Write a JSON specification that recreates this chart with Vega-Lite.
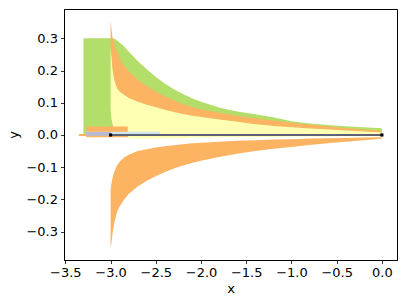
{
  "$schema": "https://vega.github.io/schema/vega-lite/v6.json",
  "autosize": "none",
  "width": 333,
  "height": 251,
  "padding": {"left": 64, "top": 9, "right": 10, "bottom": 45},
  "config": {
    "view": {"stroke": "black", "strokeWidth": 1},
    "font": "DejaVu Sans",
    "axis": {
      "grid": false, "domainColor": "black", "tickColor": "black", "tickSize": 3.5, "tickWidth": 0.8,
      "domainWidth": 1, "labelFontSize": 13, "labelColor": "black", "titleFontSize": 13,
      "titleFontWeight": "normal", "titleColor": "black", "labelPadding": 3, "labelFont": "DejaVu Sans", "titleFont": "DejaVu Sans"
    }
  },
  "datasets": {
    "green": [
      {"x": -3.3, "lo": 0, "hi": 0.3}, {"x": -3.0, "lo": 0, "hi": 0.3}, {"x": -2.95, "lo": 0, "hi": 0.298},
      {"x": -2.87, "lo": 0, "hi": 0.28}, {"x": -2.8, "lo": 0, "hi": 0.259}, {"x": -2.7, "lo": 0, "hi": 0.23},
      {"x": -2.6, "lo": 0, "hi": 0.204}, {"x": -2.5, "lo": 0, "hi": 0.18}, {"x": -2.4, "lo": 0, "hi": 0.16},
      {"x": -2.3, "lo": 0, "hi": 0.142}, {"x": -2.2, "lo": 0, "hi": 0.127}, {"x": -2.1, "lo": 0, "hi": 0.114},
      {"x": -2.0, "lo": 0, "hi": 0.103}, {"x": -1.8, "lo": 0, "hi": 0.085}, {"x": -1.6, "lo": 0, "hi": 0.073},
      {"x": -1.4, "lo": 0, "hi": 0.064}, {"x": -1.2, "lo": 0, "hi": 0.055}, {"x": -1.0, "lo": 0, "hi": 0.043},
      {"x": -0.8, "lo": 0, "hi": 0.036}, {"x": -0.6, "lo": 0, "hi": 0.031}, {"x": -0.4, "lo": 0, "hi": 0.027},
      {"x": -0.2, "lo": 0, "hi": 0.024}, {"x": 0.0, "lo": 0, "hi": 0.021}
    ],
    "orange": [
      {"x": -3.0, "lo": 0.27, "hi": 0.355}, {"x": -2.99, "lo": 0.24, "hi": 0.33}, {"x": -2.98, "lo": 0.205, "hi": 0.305},
      {"x": -2.96, "lo": 0.172, "hi": 0.285}, {"x": -2.93, "lo": 0.145, "hi": 0.26}, {"x": -2.87, "lo": 0.128, "hi": 0.222},
      {"x": -2.8, "lo": 0.115, "hi": 0.198}, {"x": -2.7, "lo": 0.103, "hi": 0.172}, {"x": -2.6, "lo": 0.094, "hi": 0.152},
      {"x": -2.5, "lo": 0.086, "hi": 0.135}, {"x": -2.4, "lo": 0.078, "hi": 0.12}, {"x": -2.3, "lo": 0.071, "hi": 0.107},
      {"x": -2.2, "lo": 0.065, "hi": 0.096}, {"x": -2.1, "lo": 0.06, "hi": 0.087}, {"x": -2.0, "lo": 0.056, "hi": 0.08},
      {"x": -1.8, "lo": 0.048, "hi": 0.069}, {"x": -1.6, "lo": 0.041, "hi": 0.06}, {"x": -1.4, "lo": 0.033, "hi": 0.052},
      {"x": -1.2, "lo": 0.028, "hi": 0.045}, {"x": -1.0, "lo": 0.024, "hi": 0.038}, {"x": -0.8, "lo": 0.02, "hi": 0.032},
      {"x": -0.6, "lo": 0.017, "hi": 0.027}, {"x": -0.4, "lo": 0.014, "hi": 0.022}, {"x": -0.2, "lo": 0.011, "hi": 0.017},
      {"x": 0.0, "lo": 0.008, "hi": 0.013}
    ],
    "yellow": [
      {"x": -3.0, "lo": 0.078, "hi": 0.27}, {"x": -2.99, "lo": 0.05, "hi": 0.24}, {"x": -2.98, "lo": 0.035, "hi": 0.205},
      {"x": -2.96, "lo": 0.022, "hi": 0.172}, {"x": -2.93, "lo": 0.012, "hi": 0.145}, {"x": -2.9, "lo": 0.004, "hi": 0.135},
      {"x": -2.87, "lo": -0.004, "hi": 0.128}, {"x": -2.8, "lo": -0.01, "hi": 0.115}, {"x": -2.7, "lo": -0.012, "hi": 0.103},
      {"x": -2.6, "lo": -0.012, "hi": 0.094}, {"x": -2.5, "lo": -0.011, "hi": 0.086}, {"x": -2.4, "lo": -0.01, "hi": 0.078},
      {"x": -2.3, "lo": -0.009, "hi": 0.071}, {"x": -2.2, "lo": -0.009, "hi": 0.065}, {"x": -2.1, "lo": -0.008, "hi": 0.06},
      {"x": -2.0, "lo": -0.008, "hi": 0.056}, {"x": -1.8, "lo": -0.007, "hi": 0.048}, {"x": -1.6, "lo": -0.007, "hi": 0.041},
      {"x": -1.4, "lo": -0.006, "hi": 0.033}, {"x": -1.2, "lo": -0.006, "hi": 0.028}, {"x": -1.0, "lo": -0.005, "hi": 0.024},
      {"x": -0.8, "lo": -0.005, "hi": 0.02}, {"x": -0.6, "lo": -0.005, "hi": 0.017}, {"x": -0.4, "lo": -0.004, "hi": 0.014},
      {"x": -0.2, "lo": -0.004, "hi": 0.011}, {"x": 0.0, "lo": -0.004, "hi": 0.008}
    ],
    "lower": [
      {"x": -3.0, "lo": -0.352, "hi": -0.17}, {"x": -2.99, "lo": -0.335, "hi": -0.15}, {"x": -2.98, "lo": -0.31, "hi": -0.135},
      {"x": -2.96, "lo": -0.275, "hi": -0.115}, {"x": -2.93, "lo": -0.24, "hi": -0.095}, {"x": -2.9, "lo": -0.222, "hi": -0.083},
      {"x": -2.85, "lo": -0.2, "hi": -0.07}, {"x": -2.8, "lo": -0.183, "hi": -0.061}, {"x": -2.7, "lo": -0.16, "hi": -0.05},
      {"x": -2.6, "lo": -0.142, "hi": -0.044}, {"x": -2.5, "lo": -0.128, "hi": -0.039}, {"x": -2.4, "lo": -0.115, "hi": -0.035},
      {"x": -2.3, "lo": -0.104, "hi": -0.032}, {"x": -2.2, "lo": -0.095, "hi": -0.029}, {"x": -2.1, "lo": -0.087, "hi": -0.026},
      {"x": -2.0, "lo": -0.08, "hi": -0.024}, {"x": -1.8, "lo": -0.068, "hi": -0.021}, {"x": -1.6, "lo": -0.058, "hi": -0.018},
      {"x": -1.4, "lo": -0.05, "hi": -0.016}, {"x": -1.2, "lo": -0.043, "hi": -0.014}, {"x": -1.0, "lo": -0.037, "hi": -0.013},
      {"x": -0.8, "lo": -0.031, "hi": -0.011}, {"x": -0.6, "lo": -0.026, "hi": -0.01}, {"x": -0.4, "lo": -0.021, "hi": -0.009},
      {"x": -0.2, "lo": -0.016, "hi": -0.008}, {"x": 0.0, "lo": -0.012, "hi": -0.007}
    ],
    "orangeRect": [{"x0": -3.27, "x1": -2.81, "y0": -0.007, "y1": 0.026}],
    "blueBand": [{"x0": -3.27, "x1": -2.45, "y0": 0.0, "y1": 0.01}],
    "lavBand": [{"x0": -3.27, "x1": -3.0, "y0": -0.002, "y1": 0.009}],
    "orangeLine": [{"x0": -3.35, "x1": -3.27, "y": 0.0}],
    "darkLine": [{"x0": -3.0, "x1": 0.0, "y": 0.0}],
    "pts": [{"x": -3.0, "y": 0.0}, {"x": 0.0, "y": 0.0}]
  },
  "encoding": {
    "x": {"type": "quantitative", "scale": {"domain": [-3.515, 0.167], "nice": false, "zero": false},
      "axis": {"title": "x", "values": [-3.5, -3.0, -2.5, -2.0, -1.5, -1.0, -0.5, 0.0], "format": ".1f", "titlePadding": 3}},
    "y": {"type": "quantitative", "scale": {"domain": [-0.388, 0.391], "nice": false, "zero": false},
      "axis": {"title": "y", "values": [-0.3, -0.2, -0.1, 0.0, 0.1, 0.2, 0.3], "format": ".1f", "titlePadding": 5}}
  },
  "layer": [
    {"data": {"name": "green"}, "mark": {"type": "area", "color": "#b3de69", "opacity": 1},
      "encoding": {"x": {"field": "x", "type": "quantitative"}, "y": {"field": "hi", "type": "quantitative"}, "y2": {"field": "lo"}}},
    {"data": {"name": "orange"}, "mark": {"type": "area", "color": "#fdb462", "opacity": 1},
      "encoding": {"x": {"field": "x", "type": "quantitative"}, "y": {"field": "hi", "type": "quantitative"}, "y2": {"field": "lo"}}},
    {"data": {"name": "yellow"}, "mark": {"type": "area", "color": "#ffffb3", "opacity": 1},
      "encoding": {"x": {"field": "x", "type": "quantitative"}, "y": {"field": "hi", "type": "quantitative"}, "y2": {"field": "lo"}}},
    {"data": {"name": "lower"}, "mark": {"type": "area", "color": "#fdb462", "opacity": 1},
      "encoding": {"x": {"field": "x", "type": "quantitative"}, "y": {"field": "hi", "type": "quantitative"}, "y2": {"field": "lo"}}},
    {"data": {"name": "orangeRect"}, "mark": {"type": "rect", "color": "#fdb462"},
      "encoding": {"x": {"field": "x0", "type": "quantitative"}, "x2": {"field": "x1"}, "y": {"field": "y0", "type": "quantitative"}, "y2": {"field": "y1"}}},
    {"data": {"name": "blueBand"}, "mark": {"type": "rect", "color": "#cfe7ec"},
      "encoding": {"x": {"field": "x0", "type": "quantitative"}, "x2": {"field": "x1"}, "y": {"field": "y0", "type": "quantitative"}, "y2": {"field": "y1"}}},
    {"data": {"name": "lavBand"}, "mark": {"type": "rect", "color": "#b6bad6"},
      "encoding": {"x": {"field": "x0", "type": "quantitative"}, "x2": {"field": "x1"}, "y": {"field": "y0", "type": "quantitative"}, "y2": {"field": "y1"}}},
    {"data": {"name": "orangeLine"}, "mark": {"type": "rule", "color": "#fdb462", "strokeWidth": 2},
      "encoding": {"x": {"field": "x0", "type": "quantitative"}, "x2": {"field": "x1"}, "y": {"field": "y", "type": "quantitative"}}},
    {"data": {"name": "darkLine"}, "mark": {"type": "rule", "color": "#5d6276", "strokeWidth": 2},
      "encoding": {"x": {"field": "x0", "type": "quantitative"}, "x2": {"field": "x1"}, "y": {"field": "y", "type": "quantitative"}}},
    {"data": {"name": "pts"}, "mark": {"type": "square", "color": "black", "size": 10, "opacity": 1},
      "encoding": {"x": {"field": "x", "type": "quantitative"}, "y": {"field": "y", "type": "quantitative"}}}
  ]
}
